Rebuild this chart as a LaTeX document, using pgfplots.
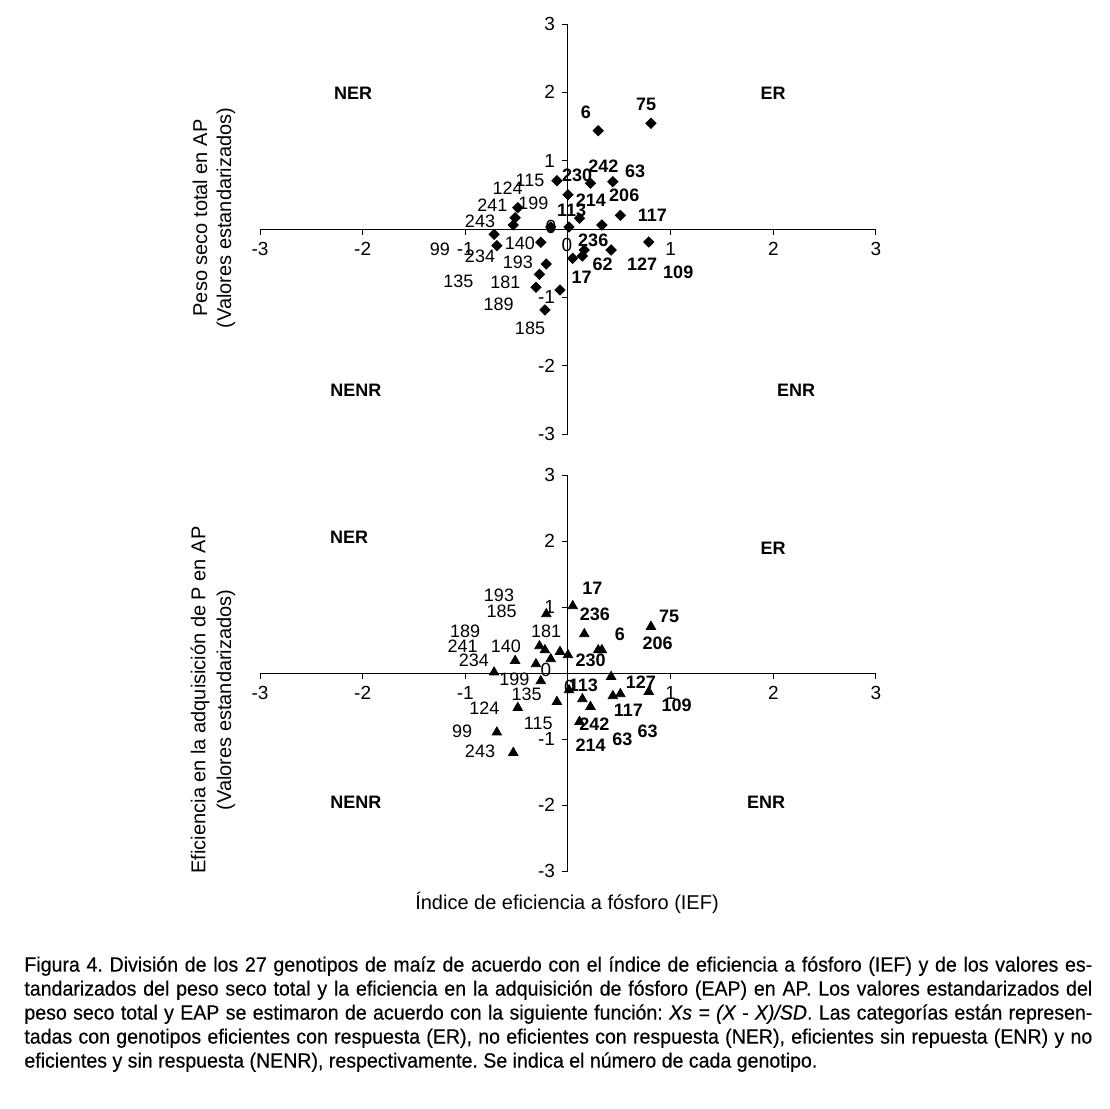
\documentclass[border=0pt]{standalone}
\usepackage{pgfplots}
\pgfplotsset{compat=1.18}
\usepackage{pgfplotstable}
\usepackage{fontspec}
\setmainfont{Liberation Sans}
\newfontfamily\capfont[FakeStretch=0.95, FakeBold=0.35]{Liberation Sans}

\pgfplotstableread{
gen x yt yb
75 0.808 1.547 0.702
6 0.294 1.439 0.348
242 0.219 0.669 -0.511
63 0.437 0.692 -0.348
230 0.000 0.502 0.273
115 -0.108 0.707 -0.435
124 -0.489 0.312 -0.526
241 -0.515 0.165 0.186
243 -0.533 0.059 -1.208
214 0.112 0.157 -0.738
117 0.510 0.200 -0.318
206 0.330 0.059 0.348
113 0.010 0.029 -0.258
199 -0.168 0.029 0.212
234 -0.720 -0.078 0.011
99 -0.693 -0.244 -0.898
140 -0.265 -0.195 -0.121
109 0.787 -0.190 -0.283
236 0.159 -0.307 0.591
62 0.140 -0.395 -0.394
127 0.420 -0.307 -0.056
17 0.046 -0.429 1.015
193 -0.211 -0.512 0.894
181 -0.278 -0.663 0.409
189 -0.312 -0.853 0.136
135 -0.078 -0.893 0.323
185 -0.225 -1.185 0.348
}\data

\pgfplotsset{quad/.style={
  scale only axis, width=308pt,
  xmin=-3, xmax=3, ymin=-3, ymax=3,
  axis lines=middle,
  axis line style={-, black, line width=0.5pt},
  xtick={-3,-2,-1,0,1,2,3}, ytick={-3,-2,-1,0,1,2,3},
  tick align=outside, major tick length=3pt,
  tick style={black, line width=0.5pt},
  ticklabel style={font=\fontsize{9.5}{10}\selectfont},
  /pgf/number format/assume math mode=true,
  clip=false, anchor=south west,
}}
\tikzset{
  lr/.style={font=\fontsize{9}{10}\selectfont, inner sep=0pt},
  lb/.style={font=\fontsize{9}{10}\selectfont\bfseries, inner sep=0pt},
  ql/.style={font=\fontsize{9}{10}\selectfont\bfseries, inner sep=0pt},
  tl/.style={font=\fontsize{9.5}{10}\selectfont, inner sep=0pt},
}

\begin{document}
\begin{tikzpicture}
\path[use as bounding box] (0,0) rectangle (555pt,-554.5pt);

% ---------- top ----------
\begin{axis}[quad, at={(130pt,-217pt)}, height=205pt]
\addplot[only marks, mark=square*, mark size=1.8pt, mark options={rotate=45, fill=black, draw=black}] table[x=x, y=yt]{\data};
\node[tl] at (axis cs:-0.166,0.03) {0};
\node[tl] at (axis cs:-0.01,-0.234) {0};
\node[ql] at (axis cs:-2.094,1.990) {NER};
\node[ql] at (axis cs:1.997,1.990) {ER};
\node[ql] at (axis cs:-2.065,-2.356) {NENR};
\node[ql] at (axis cs:2.221,-2.356) {ENR};
\node[lb] at (axis cs:0.760,1.829) {75};
\node[lb] at (axis cs:0.175,1.702) {6};
\node[lb] at (axis cs:0.344,0.912) {242};
\node[lb] at (axis cs:0.653,0.839) {63};
\node[lb] at (axis cs:0.088,0.786) {230};
\node[lb] at (axis cs:0.224,0.424) {214};
\node[lb] at (axis cs:0.548,0.493) {206};
\node[lb] at (axis cs:0.036,0.278) {113};
\node[lb] at (axis cs:0.821,0.194) {117};
\node[lb] at (axis cs:0.246,-0.161) {236};
\node[lb] at (axis cs:0.338,-0.512) {62};
\node[lb] at (axis cs:0.723,-0.512) {127};
\node[lb] at (axis cs:1.074,-0.640) {109};
\node[lb] at (axis cs:0.133,-0.707) {17};
\node[lr] at (axis cs:-0.370,0.707) {115};
\node[lr] at (axis cs:-0.588,0.595) {124};
\node[lr] at (axis cs:-0.338,0.370) {199};
\node[lr] at (axis cs:-0.737,0.341) {241};
\node[lr] at (axis cs:-0.857,0.117) {243};
\node[lr] at (axis cs:-0.468,-0.209) {140};
\node[lr] at (axis cs:-1.247,-0.303) {99};
\node[lr] at (axis cs:-0.857,-0.405) {234};
\node[lr] at (axis cs:-0.487,-0.487) {193};
\node[lr] at (axis cs:-1.068,-0.761) {135};
\node[lr] at (axis cs:-0.611,-0.786) {181};
\node[lr] at (axis cs:-0.675,-1.102) {189};
\node[lr] at (axis cs:-0.370,-1.459) {185};
\end{axis}

% ---------- bottom ----------
\begin{axis}[quad, at={(130pt,-435.5pt)}, height=198pt]
\addplot[only marks, mark=triangle*, mark size=2.7pt, mark options={fill=black, draw=black}] table[x=x, y=yb]{\data};
\node[tl] at (axis cs:-0.214,0.045) {0};
\node[tl] at (axis cs:0.013,-0.217) {0};
\node[ql] at (axis cs:-2.133,2.061) {NER};
\node[ql] at (axis cs:1.997,1.894) {ER};
\node[ql] at (axis cs:-2.065,-1.955) {NENR};
\node[ql] at (axis cs:1.929,-1.955) {ENR};
\node[lb] at (axis cs:0.237,1.283) {17};
\node[lb] at (axis cs:0.263,0.889) {236};
\node[lb] at (axis cs:0.984,0.853) {75};
\node[lb] at (axis cs:0.506,0.591) {6};
\node[lb] at (axis cs:0.874,0.450) {206};
\node[lb] at (axis cs:0.221,0.197) {230};
\node[lb] at (axis cs:0.149,-0.182) {113};
\node[lb] at (axis cs:0.711,-0.132) {127};
\node[lb] at (axis cs:0.588,-0.561) {117};
\node[lb] at (axis cs:1.059,-0.495) {109};
\node[lb] at (axis cs:0.256,-0.773) {242};
\node[lb] at (axis cs:0.776,-0.879) {63};
\node[lb] at (axis cs:0.529,-1.005) {63};
\node[lb] at (axis cs:0.221,-1.091) {214};
\node[lr] at (axis cs:-0.672,1.182) {193};
\node[lr] at (axis cs:-0.646,0.929) {185};
\node[lr] at (axis cs:-0.214,0.636) {181};
\node[lr] at (axis cs:-1.003,0.626) {189};
\node[lr] at (axis cs:-1.026,0.409) {241};
\node[lr] at (axis cs:-0.604,0.409) {140};
\node[lr] at (axis cs:-0.916,0.197) {234};
\node[lr] at (axis cs:-0.522,-0.091) {199};
\node[lr] at (axis cs:-0.402,-0.318) {135};
\node[lr] at (axis cs:-0.815,-0.535) {124};
\node[lr] at (axis cs:-0.289,-0.763) {115};
\node[lr] at (axis cs:-1.030,-0.889) {99};
\node[lr] at (axis cs:-0.857,-1.192) {243};
\end{axis}

% axis titles
\node[rotate=90, font=\fontsize{10}{12}\selectfont, inner sep=0pt] at (100pt,-109pt) {Peso seco total en AP};
\node[rotate=90, font=\fontsize{10}{12}\selectfont, inner sep=0pt] at (113pt,-109pt) {(Valores estandarizados)};
\node[rotate=90, font=\fontsize{10}{12}\selectfont, inner sep=0pt] at (100pt,-350pt) {Eficiencia en la adquisición de P en AP};
\node[rotate=90, font=\fontsize{10}{12}\selectfont, inner sep=0pt] at (113pt,-350pt) {(Valores estandarizados)};
\node[font=\fontsize{10}{12}\selectfont, inner sep=0pt] at (283.5pt,-451.5pt) {Índice de eficiencia a fósforo (IEF)};

% caption
\node[anchor=north west, inner sep=0pt, text width=534pt, align=justify,
      font=\capfont\fontsize{10.3}{12}\selectfont] at (12pt,-478pt)
{\frenchspacing\tolerance=9999\emergencystretch=20pt\hyphenpenalty=10000
Figura 4. División de los 27 genotipos de maíz de acuerdo con el índice de eficiencia a fósforo (IEF) y de los valores es-\linebreak
tandarizados del peso seco total y la eficiencia en la adquisición de fósforo (EAP) en AP. Los valores estandarizados del\linebreak
peso seco total y EAP se estimaron de acuerdo con la siguiente función: \textit{Xs = (X - X)/SD}. Las categorías están represen-\linebreak
tadas con genotipos eficientes con respuesta (ER), no eficientes con respuesta (NER), eficientes sin repuesta (ENR) y no\linebreak
eficientes y sin respuesta (NENR), respectivamente. Se indica el número de cada genotipo.};
\end{tikzpicture}
\end{document}
